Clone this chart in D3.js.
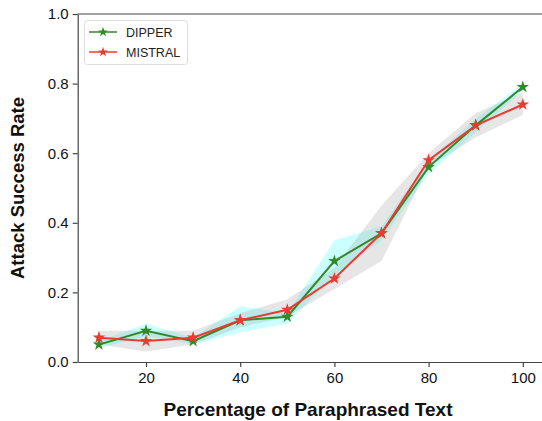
<!DOCTYPE html>
<html lang="en">
<head>
<meta charset="UTF-8">
<title>Attack Success Rate</title>
<script src="https://d3js.org/d3.v7.min.js"></script>
<style>
  body { margin: 0; background: #fff; font-family: 'Liberation Sans', Arial, sans-serif; }
  .axis text { font-size: 15px; fill: #111; font-family: 'Liberation Sans', Arial, sans-serif; }
  .axis path, .axis line { stroke: #444; stroke-width: 1.2; }
</style>
</head>
<body>
<svg id="chart" width="542" height="421"></svg>
<script>
// data
const percents = [10, 20, 30, 40, 50, 60, 70, 80, 90, 100];
const dipper = [0.05, 0.09, 0.06, 0.12, 0.13, 0.29, 0.37, 0.56, 0.68, 0.79];
const dipperLow = [0.04, 0.075, 0.05, 0.085, 0.11, 0.25, 0.35, 0.54, 0.66, 0.78];
const dipperHigh = [0.06, 0.11, 0.07, 0.16, 0.14, 0.35, 0.39, 0.58, 0.70, 0.80];
const mistral = [0.07, 0.06, 0.07, 0.12, 0.15, 0.24, 0.37, 0.58, 0.68, 0.74];
const mistralLow = [0.05, 0.03, 0.05, 0.10, 0.13, 0.21, 0.29, 0.56, 0.645, 0.71];
const mistralHigh = [0.09, 0.09, 0.09, 0.14, 0.18, 0.27, 0.45, 0.60, 0.715, 0.775];
const xTicks = [20, 40, 60, 80, 100];
const yTicks = [0, 0.2, 0.4, 0.6, 0.8, 1.0];

const svg = d3.select("#chart");
const margin = { left: 77.7, right: 544, top: 14, bottom: 362 };

const x = d3.scaleLinear().domain([5.5, 104.5]).range([margin.left, margin.right]);
const y = d3.scaleLinear().domain([0, 1]).range([margin.bottom, margin.top]);

// bands
const area = (lo, hi) => d3.area()
  .x((d, i) => x(percents[i]))
  .y0((d, i) => y(lo[i]))
  .y1((d, i) => y(hi[i]));

svg.append("path").datum(percents)
  .attr("d", area(dipperLow, dipperHigh))
  .attr("fill", "cyan").attr("fill-opacity", 0.2);
svg.append("path").datum(percents)
  .attr("d", area(mistralLow, mistralHigh))
  .attr("fill", "gray").attr("fill-opacity", 0.2);

const series = [
  { name: "DIPPER", values: dipper, color: "#2f8a27" },
  { name: "MISTRAL", values: mistral, color: "#eb3a30" }
];

const line = d3.line().x((d, i) => x(percents[i])).y(d => y(d));
const star = d3.symbol().type(d3.symbolStar).size(48);

series.forEach(s => {
  svg.append("path").datum(s.values)
    .attr("d", line)
    .attr("fill", "none")
    .attr("stroke", s.color)
    .attr("stroke-width", 2);
  svg.selectAll(null).data(s.values).enter().append("path")
    .attr("d", star)
    .attr("transform", (d, i) => `translate(${x(percents[i])},${y(d)})`)
    .attr("fill", s.color);
});

// axes
svg.append("g").attr("class", "axis")
  .attr("transform", `translate(0,${margin.bottom})`)
  .call(d3.axisBottom(x).tickValues(xTicks).tickSize(5).tickPadding(4).tickSizeOuter(0))
  .call(g => g.selectAll("text").attr("dy", "0.8em"));
svg.append("g").attr("class", "axis")
  .attr("transform", `translate(${margin.left},0)`)
  .call(d3.axisLeft(y).tickValues(yTicks).tickFormat(d3.format(".1f")).tickSize(5).tickPadding(4).tickSizeOuter(0));
svg.append("line")
  .attr("x1", margin.left).attr("x2", margin.right)
  .attr("y1", margin.top).attr("y2", margin.top)
  .attr("stroke", "#444").attr("stroke-width", 1.2);

// axis labels
svg.append("text")
  .attr("x", 308).attr("y", 416)
  .attr("text-anchor", "middle")
  .style("font-size", "19px").style("font-weight", "bold").style("fill", "#111")
  .text("Percentage of Paraphrased Text");
svg.append("text")
  .attr("transform", `translate(24,188) rotate(-90)`)
  .attr("text-anchor", "middle")
  .style("font-size", "18.5px").style("font-weight", "bold").style("fill", "#111")
  .text("Attack Success Rate");

// legend
const legend = svg.append("g");
legend.append("rect")
  .attr("x", 84.5).attr("y", 20.5).attr("width", 103).attr("height", 44).attr("rx", 3)
  .attr("fill", "#fff").attr("fill-opacity", 0.8).attr("stroke", "#ddd");
series.forEach((s, i) => {
  const ly = 32 + i * 20;
  legend.append("line").attr("x1", 89).attr("x2", 117).attr("y1", ly).attr("y2", ly)
    .attr("stroke", s.color).attr("stroke-width", 1.5);
  legend.append("path").attr("d", d3.symbol().type(d3.symbolStar).size(30))
    .attr("transform", `translate(103,${ly})`).attr("fill", s.color);
  legend.append("text").attr("x", 126).attr("y", ly + 4.5)
    .style("font-size", "12.5px").style("fill", "#222")
    .text(s.name);
});
</script>
</body>
</html>
